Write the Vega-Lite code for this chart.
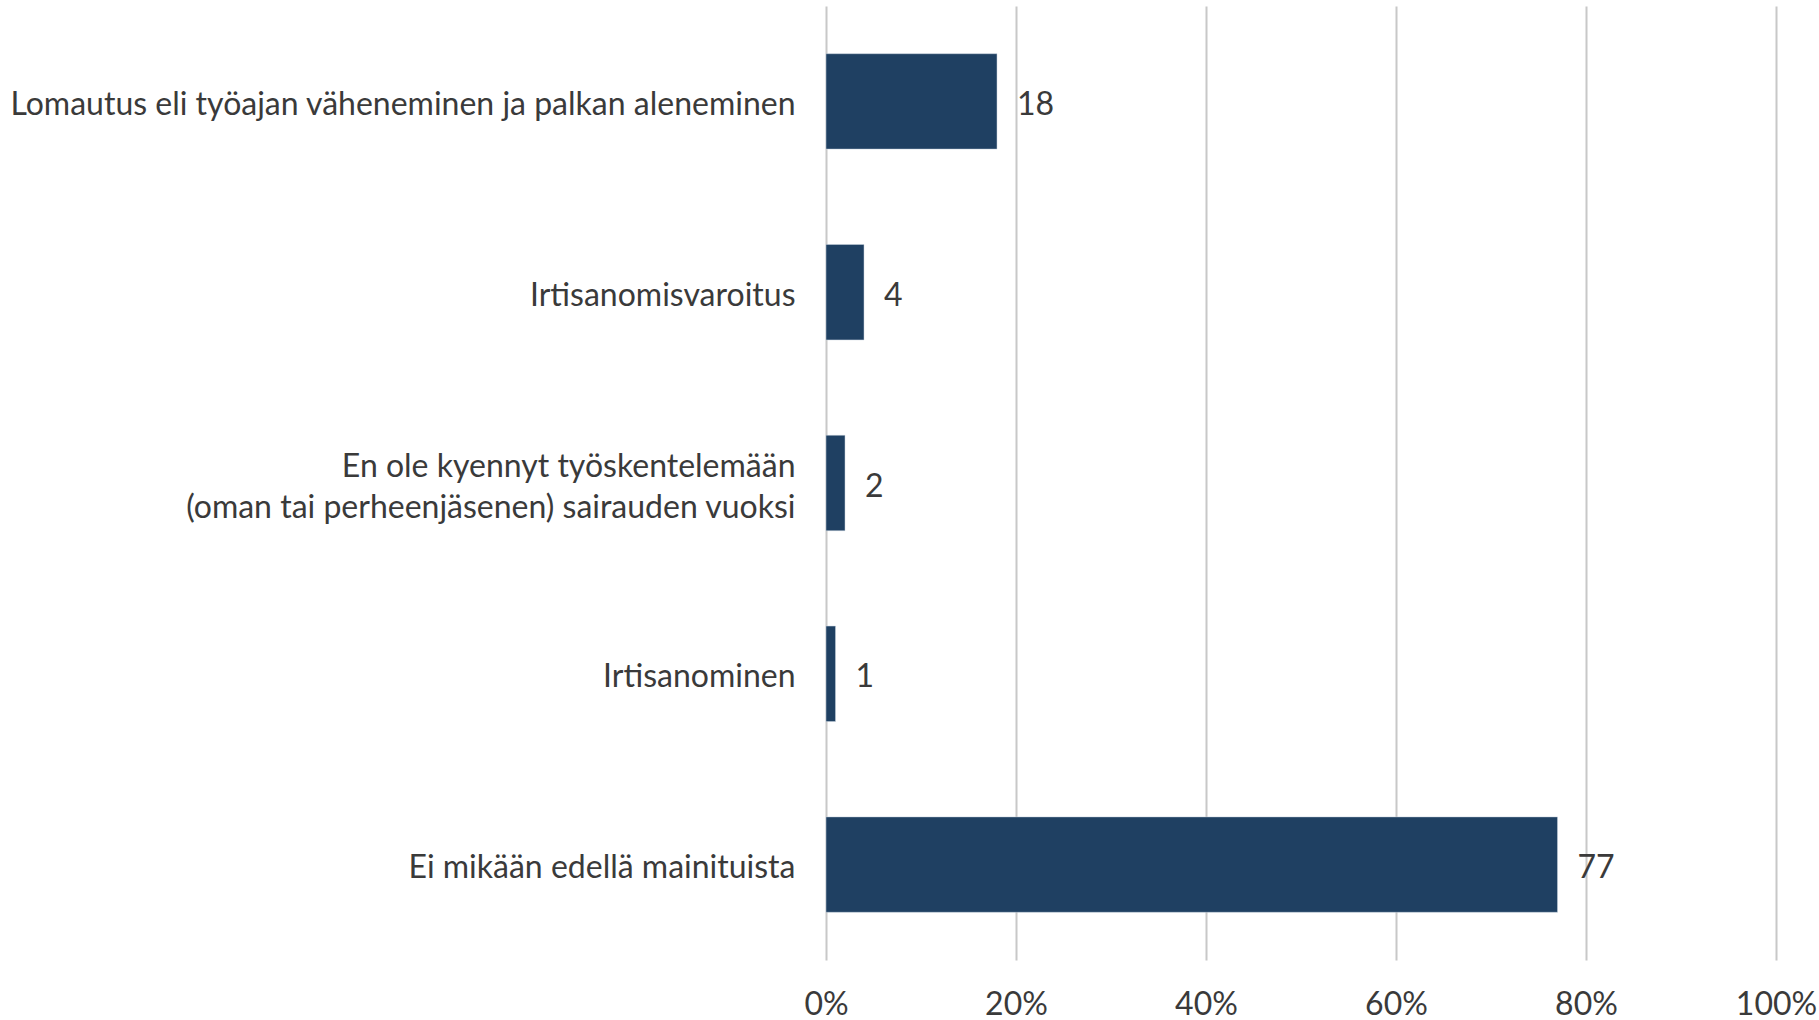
{
  "$schema": "https://vega.github.io/schema/vega-lite/v6.json",
  "width": 950,
  "height": 954,
  "autosize": {"type": "none"},
  "padding": {"left": 826, "top": 6, "right": 43, "bottom": 60},
  "background": "white",
  "data": {
    "values": [
      {"category": "Lomautus eli työajan väheneminen ja palkan aleneminen", "value": 18},
      {"category": "Irtisanomisvaroitus", "value": 4},
      {"category": "En ole kyennyt työskentelemään\n(oman tai perheenjäsenen) sairauden vuoksi", "value": 2},
      {"category": "Irtisanominen", "value": 1},
      {"category": "Ei mikään edellä mainituista", "value": 77}
    ]
  },
  "config": {
    "view": {"stroke": null},
    "font": "Lato",
    "axis": {"labelFont": "Lato", "labelColor": "#3a3a3a"}
  },
  "encoding": {
    "y": {
      "field": "category",
      "type": "nominal",
      "sort": null,
      "scale": {"paddingInner": 0.5, "paddingOuter": 0.25},
      "axis": {
        "title": null,
        "domain": false,
        "ticks": false,
        "grid": false,
        "labelFontSize": 32,
        "labelPadding": 31,
        "labelLimit": 900,
        "labelLineHeight": 41,
        "labelAlign": "right",
        "labelOffset": {"condition": {"test": "indexof(datum.value, '(') >= 0", "value": -16}, "value": 3.5},
        "labelExpr": "split(datum.label, '\\n')"
      }
    },
    "x": {
      "field": "value",
      "type": "quantitative",
      "scale": {"domain": [0, 100], "nice": false},
      "axis": {
        "title": null,
        "domain": false,
        "ticks": false,
        "grid": true,
        "gridColor": "#c8c8c8",
        "gridWidth": 2,
        "values": [0, 20, 40, 60, 80, 100],
        "labelExpr": "datum.value + '%'",
        "labelFontSize": 32,
        "labelPadding": 29,
        "labelFlush": false
      }
    }
  },
  "layer": [
    {"mark": {"type": "bar", "color": "#1f4062", "stroke": "#c9d3de", "strokeWidth": 0.5}},
    {
      "mark": {"type": "text", "align": "left", "baseline": "middle", "dx": 20, "dy": 3.5, "fontSize": 32, "color": "#3a3a3a"},
      "encoding": {"text": {"field": "value", "type": "quantitative"}}
    }
  ]
}
